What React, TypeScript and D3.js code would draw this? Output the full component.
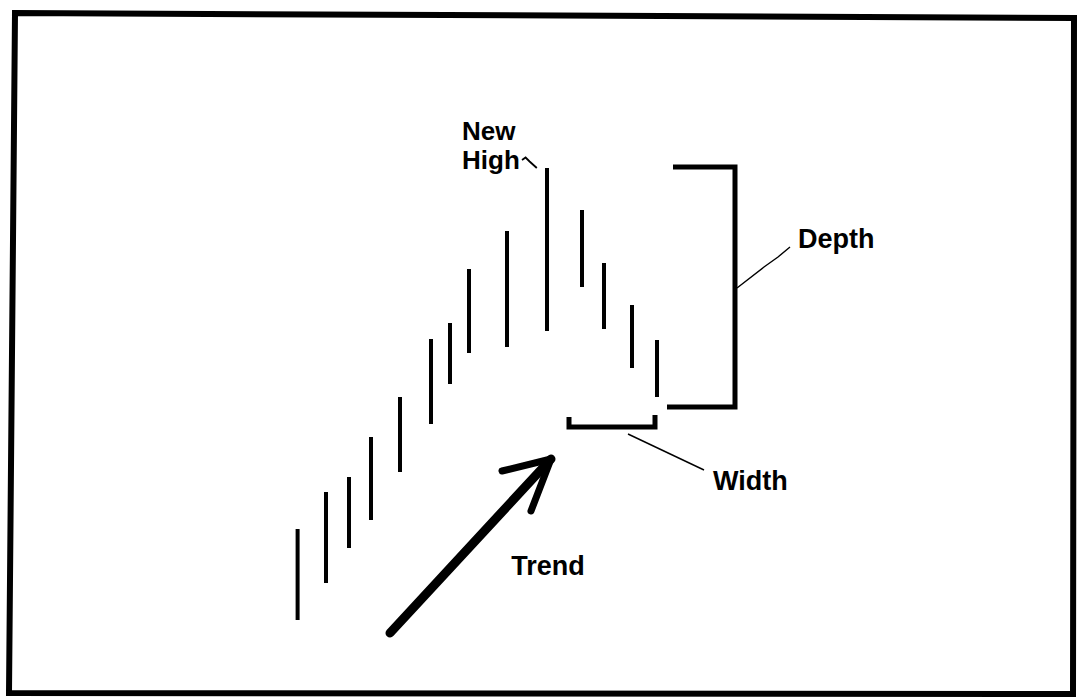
import React from "react";
import * as d3 from "d3";

// Price bars (day position, high, low)
const days = [4.4, 11.5, 17.25, 22.75, 30, 37.75, 42.5, 47.25, 56.75, 66.75, 75.5, 81, 88, 94.25];
const highs = [22.2, 29.6, 32.6, 40.6, 48.6, 60.2, 63.4, 74.2, 81.8, 94.4, 86, 75.4, 67, 60];
const lows = [4, 11.4, 18.4, 24, 33.6, 43.2, 51.2, 57.4, 58.6, 61.8, 70.6, 62.2, 54.4, 48.6];

// Depth bracket: [x, y] points
const depthBracket: [number, number][] = [[98.25, 94.6], [113.75, 94.6], [113.75, 46.6], [96.75, 46.6]];
// Width bracket
const widthBracket: [number, number][] = [[72.25, 44.6], [72.25, 42.6], [93.75, 42.6], [93.75, 45.0]];
// Trend arrow
const arrowShaft: [number, number][] = [[27.5, 1.4], [67.75, 36.2]];
const arrowHead: [number, number][] = [[55.5, 33.8], [67.75, 36.2], [62.75, 25.8]];
// Leader lines
const highLeader: [number, number][] = [[60.5, 96.0], [61.4, 96.5], [62.4, 95.7], [64.2, 94.4]];
const depthLeader: [number, number][] = [[114.25, 70.4], [121, 74.6], [124.5, 76.6], [127.5, 78.6]];
const widthLeader: [number, number][] = [[87, 41.2], [106, 34]];

// Text labels
const labels = ["New", "High", "Depth", "Width", "Trend"];
const labelX = [45.5, 45.5, 129.5, 108.25, 57.8];
const labelY = [100, 94.2, 78.4, 30, 13];
const labelSize = [26, 26, 27, 27, 27];

export default function App() {
  const W = 1077;
  const H = 698;
  const x = d3.scaleLinear().domain([0, 100]).range([280, 680]);
  const y = d3.scaleLinear().domain([0, 100]).range([640, 140]);
  const line = d3
    .line<[number, number]>()
    .x((d) => x(d[0]))
    .y((d) => y(d[1]));
  const frame = "M15,13 L1074,18 L1073,694 L9,693 Z";
  const font = "'Liberation Sans', Arial, sans-serif";
  return (
    <svg
      width={W}
      height={H}
      style={{ position: "fixed", left: 0, top: 0, background: "#fff" }}
    >
      <rect x={0} y={0} width={W} height={H} fill="#fff" />
      <path d={frame} fill="none" stroke="#000" strokeWidth={6} />
      {days.map((d, i) => (
        <line
          key={i}
          x1={x(d)}
          x2={x(d)}
          y1={y(highs[i])}
          y2={y(lows[i])}
          stroke="#000"
          strokeWidth={4}
        />
      ))}
      <path d={line(depthBracket) || ""} fill="none" stroke="#000" strokeWidth={5} strokeLinejoin="miter" />
      <path d={line(widthBracket) || ""} fill="none" stroke="#000" strokeWidth={5} strokeLinejoin="miter" />
      <path d={line(arrowShaft) || ""} fill="none" stroke="#000" strokeWidth={9} strokeLinecap="round" />
      <path d={line(arrowHead) || ""} fill="none" stroke="#000" strokeWidth={7} strokeLinecap="round" strokeLinejoin="round" />
      <path d={line(highLeader) || ""} fill="none" stroke="#000" strokeWidth={1.8} />
      <path d={line(depthLeader) || ""} fill="none" stroke="#000" strokeWidth={1.4} />
      <path d={line(widthLeader) || ""} fill="none" stroke="#000" strokeWidth={1.4} />
      {labels.map((t, i) => (
        <text
          key={t}
          x={x(labelX[i])}
          y={y(labelY[i])}
          fontFamily={font}
          fontWeight="bold"
          fontSize={labelSize[i]}
          fill="#000"
        >
          {t}
        </text>
      ))}
    </svg>
  );
}
